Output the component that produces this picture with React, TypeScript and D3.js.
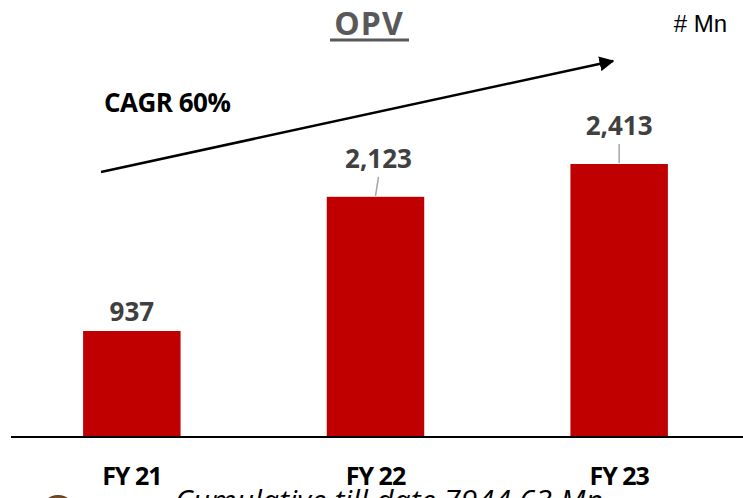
import React from 'react';
import * as d3 from 'd3';

const categories = ['FY 21', 'FY 22', 'FY 23'];
const values = [937, 2123, 2413];
const valueLabels = ['937', '2,123', '2,413'];
const title = 'OPV';
const unitLabel = '# Mn';
const cagrLabel = 'CAGR 60%';
const footnote = 'Cumulative till date 7944.63 Mn';

const W = 743;
const H = 498;

const App = () => {
    const baseline = 437;
    const x = d3.scaleBand().domain(categories).range([10, 741]).paddingInner(0.6).paddingOuter(0.3);
    const y = d3.scaleLinear().domain([0, 2413]).range([baseline, 164]);

    return (
        <svg width={W} height={H} style={{ position: 'absolute', left: 0, top: 0, fontFamily: "'Open Sans', sans-serif" }}>
            <defs>
                <marker id="arr" viewBox="0 0 10 10" refX="9" refY="5" markerWidth="6" markerHeight="6" orient="auto">
                    <path d="M0,0 L10,5 L0,10 z" fill="#000" />
                </marker>
                <radialGradient id="ico" cx="50%" cy="50%" r="50%">
                    <stop offset="0%" stopColor="#e8c8a8" />
                    <stop offset="70%" stopColor="#a0642a" />
                    <stop offset="100%" stopColor="#5a3a20" />
                </radialGradient>
            </defs>
            <text x={369} y={35} textAnchor="middle" fontSize={32} fontWeight="bold" fill="#595959" letterSpacing={1}>{title}</text>
            <line x1={330} x2={409} y1={40} y2={40} stroke="#595959" strokeWidth={3} />
            <text x={727} y={32} textAnchor="end" fontSize={24} fill="#000" style={{ fontFamily: "'Liberation Sans', sans-serif" }}>{unitLabel}</text>
            <text x={104} y={112} fontSize={26} fontWeight="bold" fill="#000" letterSpacing={-0.5}>{cagrLabel}</text>
            <line x1={101} y1={172} x2={613} y2={61} stroke="#000" strokeWidth={2.5} markerEnd="url(#arr)" />

            {categories.map((c, i) => {
                const bx = x(c)!;
                const cx = bx + x.bandwidth() / 2;
                const top = y(values[i]);
                return (
                    <g key={c}>
                        <rect x={bx} y={top} width={x.bandwidth()} height={baseline - top} fill="#c00000" />
                        {i > 0 && (
                            <line x1={cx + (i === 1 ? 3 : 0)} y1={top - 20} x2={cx} y2={top - 1} stroke="#a6a6a6" strokeWidth={1.5} />
                        )}
                        <text x={cx + (i === 1 ? 3 : 0)} y={i === 0 ? top - 10 : top - 29} textAnchor="middle" fontSize={26} fontWeight="bold" fill="#404040">{valueLabels[i]}</text>
                        <text x={cx} y={485} textAnchor="middle" fontSize={25} fontWeight="bold" fill="#000" letterSpacing={-1}>{c}</text>
                    </g>
                );
            })}
            <line x1={11} x2={743} y1={baseline} y2={baseline} stroke="#000" strokeWidth={2} />
            <circle cx={58} cy={512} r={17} fill="url(#ico)" />
            <text x={175} y={511} fontSize={30} fontStyle="italic" fill="#000" textLength={428}>{footnote}</text>
        </svg>
    );
};

export default App;
